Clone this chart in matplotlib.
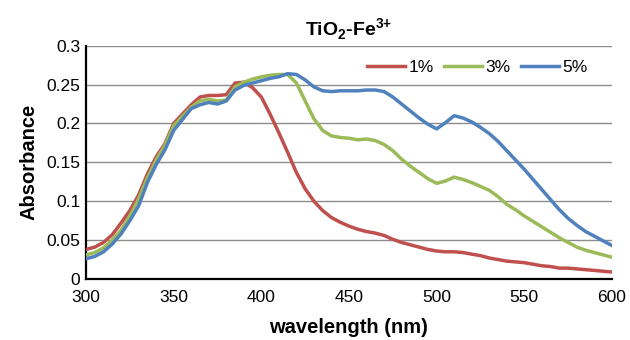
import numpy as np
from matplotlib import pyplot as plt

plt.rcParams['font.family'] = ['Liberation Sans', 'DejaVu Sans']
plt.rcParams['mathtext.fontset'] = 'custom'
plt.rcParams['mathtext.rm'] = 'Liberation Sans'
plt.rcParams['mathtext.bf'] = 'Liberation Sans:bold'

# wavelength grid (nm), every 5 nm
wavelength = np.arange(300, 601, 5)

fe_1 = [0.038, 0.041, 0.047, 0.057, 0.072, 0.088, 0.108, 0.135, 0.157, 0.174,
        0.200, 0.212, 0.224, 0.234, 0.236, 0.236, 0.237, 0.252, 0.253, 0.246,
        0.234, 0.212, 0.188, 0.163, 0.137, 0.116, 0.100, 0.088, 0.079, 0.073,
        0.068, 0.064, 0.061, 0.059, 0.056, 0.051, 0.047, 0.044, 0.041, 0.038,
        0.036, 0.035, 0.035, 0.034, 0.032, 0.030, 0.027, 0.025, 0.023, 0.022,
        0.021, 0.019, 0.017, 0.016, 0.014, 0.014, 0.013, 0.012, 0.011, 0.010,
        0.009]

fe_3 = [0.031, 0.034, 0.040, 0.050, 0.063, 0.081, 0.103, 0.130, 0.153, 0.172,
        0.197, 0.209, 0.221, 0.229, 0.231, 0.229, 0.230, 0.247, 0.253, 0.257,
        0.260, 0.262, 0.263, 0.263, 0.252, 0.229, 0.206, 0.191, 0.184, 0.182,
        0.181, 0.179, 0.180, 0.178, 0.173, 0.165, 0.154, 0.145, 0.137, 0.129,
        0.123, 0.126, 0.131, 0.128, 0.124, 0.119, 0.114, 0.106, 0.096, 0.089,
        0.081, 0.074, 0.067, 0.060, 0.053, 0.047, 0.041, 0.037, 0.034, 0.031,
        0.028]

fe_5 = [0.026, 0.029, 0.035, 0.045, 0.058, 0.075, 0.094, 0.124, 0.147, 0.166,
        0.191, 0.205, 0.219, 0.224, 0.227, 0.225, 0.229, 0.243, 0.249, 0.252,
        0.255, 0.258, 0.260, 0.264, 0.263, 0.256, 0.247, 0.242, 0.241, 0.242,
        0.242, 0.242, 0.243, 0.243, 0.241, 0.234, 0.225, 0.216, 0.207, 0.199,
        0.193, 0.201, 0.210, 0.207, 0.202, 0.195, 0.187, 0.177, 0.165, 0.153,
        0.141, 0.128, 0.115, 0.102, 0.089, 0.078, 0.069, 0.061, 0.055, 0.049,
        0.043]

labels = ["1%", "3%", "5%"]
colors = ["#C0504D", "#9BBB59", "#4F81BD"]

fig = plt.figure(figsize=(6.3, 3.4), dpi=100)
ax = fig.add_axes([0.1365, 0.1794, 0.8349, 0.6862])

for series, label, color in zip([fe_1, fe_3, fe_5], labels, colors):
    ax.plot(wavelength, series, color=color, lw=2.5, label=label,
            solid_joinstyle='round', zorder=3)

ax.set_xlim(300, 600)
ax.set_ylim(0, 0.3)
ax.set_xticks(np.arange(300, 601, 50))
ax.set_yticks(np.arange(0, 0.31, 0.05))
ax.set_yticklabels(["0", "0.05", "0.1", "0.15", "0.2", "0.25", "0.3"])
ax.tick_params(length=0, labelsize=12.5)
ax.tick_params(axis='y', pad=4)
ax.tick_params(axis='x', pad=8)
ax.yaxis.grid(True, color='#8c8c8c', lw=1)
ax.set_axisbelow(True)
for side in ['top', 'right']:
    ax.spines[side].set_visible(False)
for side in ['left', 'bottom']:
    ax.spines[side].set_linewidth(1.6)

ax.set_xlabel("wavelength (nm)", fontsize=14.5, fontweight='bold', labelpad=9)
ax.set_ylabel("Absorbance", fontsize=14.5, fontweight='bold', labelpad=6)
ax.set_title(r"TiO$_\mathbf{2}$-Fe$^\mathbf{3{+}}$", fontsize=14,
             fontweight='bold', pad=7)

ax.legend(loc='center right', ncol=3, frameon=False, fontsize=12.5,
          handlelength=2.2, handletextpad=0.2, columnspacing=0.6,
          borderpad=0, borderaxespad=0,
          bbox_to_anchor=(588 / 630, 1 - 67 / 340),
          bbox_transform=fig.transFigure)

fig.savefig("out.png", dpi=100)
